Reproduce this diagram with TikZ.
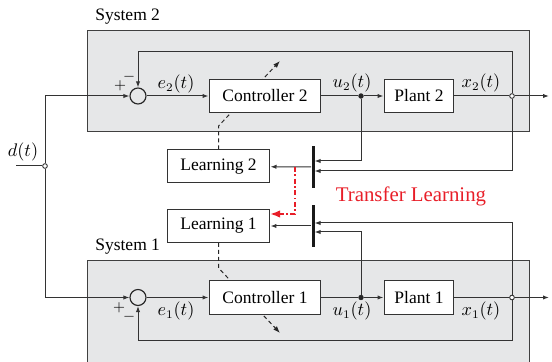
\documentclass[tikz,border=0pt]{standalone}
\usepackage{fontspec}
\setmainfont{Liberation Serif}
\usetikzlibrary{arrows.meta,calc}
\pgfdeclarelayer{back}
\pgfdeclarelayer{mid}
\pgfsetlayers{back,mid,main}
\definecolor{tlred}{RGB}{232,30,40}
\definecolor{sysgray}{RGB}{230,231,232}
\begin{document}
\begin{tikzpicture}[x=0.6pt,y=-0.6pt,
  font=\fontsize{10.5}{12}\selectfont,
  blk/.style={draw=black!80, line width=0.6pt, fill=white, inner sep=0pt, minimum height=20.2pt},
  sumc/.style={circle, draw=black!85, line width=0.7pt, minimum size=9.6pt, inner sep=0pt},
  odot/.style={circle, draw=black!85, fill=white, line width=0.5pt, minimum size=2.8pt, inner sep=0pt},
  fdot/.style={circle, draw=black!85, fill=black!85, minimum size=2.8pt, inner sep=0pt},
  swbar/.style={fill=black!90, minimum width=1.8pt, minimum height=25.2pt, inner sep=0pt},
  wire/.style={draw=black!80, line width=0.6pt},
  arr/.style={wire, -{Latex[length=3.6pt,width=2.6pt]}},
  dsh/.style={draw=black!85, line width=0.6pt, dash pattern=on 2.4pt off 1.8pt, -{Latex[length=4.2pt,width=3pt]}},
  lbl/.style={inner sep=0pt},
  pm/.style={inner sep=0pt, font=\fontsize{9}{10}\selectfont},
  sysbox/.style={fill=sysgray, draw=black!75, line width=0.6pt}]
\useasboundingbox (0,0) rectangle (552,362);
% system boxes
\begin{pgfonlayer}{back}
  \filldraw[sysbox] (87,31) rectangle (529,132);
  \fill[sysgray] (87,261) rectangle (529,366);
  \draw[sysbox] (87,366) -- (87,261) -- (529,261) -- (529,366);
\end{pgfonlayer}
\node[lbl, anchor=west] (sys2) at (95,17) {System 2};
\node[lbl, anchor=west] (sys1) at (95,247) {System 1};
% system 2
\node[sumc] (s2) at (138,96) {};
\node[blk, minimum width=67.2pt] (c2) at (265,96) {Controller 2};
\node[fdot] (u2) at (361,96) {};
\node[blk, minimum width=42pt] (p2) at (419,96) {Plant 2};
\node[odot] (x2) at (512,96) {};
\coordinate (o2) at (549,96);
\coordinate (fb2) at (138,52);
% system 1
\node[sumc] (s1) at (138,297.5) {};
\node[blk, minimum width=67.2pt] (c1) at (265,297.5) {Controller 1};
\node[fdot] (u1) at (361,297.5) {};
\node[blk, minimum width=42pt] (p1) at (419,297.5) {Plant 1};
\node[odot] (x1) at (512,297.5) {};
\coordinate (o1) at (549,297.5);
\coordinate (fb1) at (138,341);
% input
\coordinate (din) at (16,166);
\node[odot] (d) at (45,166) {};
\node[lbl] (dl) at (23,152) {$d(t)$};
% learning
\node[blk, minimum width=61.8pt, minimum height=19.8pt] (l2) at (218.5,166.5) {Learning 2};
\node[blk, minimum width=61.8pt, minimum height=19.8pt] (l1) at (218.5,226) {Learning 1};
\node[swbar] (sw2) at (313,167) {};
\node[swbar] (sw1) at (313,226) {};
\coordinate (a2u) at (314.6,161);
\coordinate (a2x) at (314.6,171);
\coordinate (a1x) at (314.6,223);
\coordinate (a1u) at (314.6,232);
% labels
\node[lbl] (e2l) at (176,84) {$e_2(t)$};
\node[lbl] (u2l) at (352,83) {$u_2(t)$};
\node[lbl] (x2l) at (481,83) {$x_2(t)$};
\node[lbl] (e1l) at (176,311) {$e_1(t)$};
\node[lbl] (u1l) at (352,311) {$u_1(t)$};
\node[lbl] (x1l) at (481,311) {$x_1(t)$};
\node[pm] (pl2) at (120,86) {$+$};
\node[pm] (mi2) at (129,77) {$-$};
\node[pm] (pl1) at (119,308) {$+$};
\node[pm] (mi1) at (129,317) {$-$};
\node[lbl, text=tlred, font=\fontsize{12.5}{14}\selectfont] (tl) at (411,196) {Transfer Learning};
% wires system 2
\draw[arr] (s2) -- (c2);
\draw[wire] (c2) -- (u2);
\draw[arr] (u2) -- (p2);
\draw[wire] (p2) -- (x2);
\draw[arr] (x2) -- (o2);
\draw[arr] (x2) |- (fb2) -- (s2);
% wires system 1
\draw[arr] (s1) -- (c1);
\draw[wire] (c1) -- (u1);
\draw[arr] (u1) -- (p1);
\draw[wire] (p1) -- (x1);
\draw[arr] (x1) -- (o1);
\draw[arr] (x1) |- (fb1) -- (s1);
% input
\draw[wire] (din) -- (d);
\draw[arr] (d) |- (s2);
\draw[arr] (d) |- (s1);
% learning wires
\draw[arr] (u2) |- (a2u);
\draw[arr] (x2) |- (a2x);
\draw[arr] (sw2) -- (l2);
\draw[arr] (x1) |- (a1x);
\draw[arr] (u1) |- (a1u);
\draw[arr] (sw1) -- (l1);
% adaptation arrows
\coordinate (dk2) at (218.5,126);
\coordinate (dt2) at (280,61);
\coordinate (dk1) at (218.5,268);
\coordinate (dt1) at (280,333);
\begin{pgfonlayer}{mid}
  \draw[dsh] (l2.north) -- (dk2) -- (dt2);
  \draw[dsh] (l1.south) -- (dk1) -- (dt1);
\end{pgfonlayer}
% transfer
\coordinate (r0) at (295,167);
\coordinate (r1) at (295,214);
\coordinate (r2) at (270,214);
\draw[tlred, line width=1.3pt, dash pattern=on 3pt off 1.5pt on 1pt off 1.5pt, -{Latex[length=6pt,width=4.5pt]}] (r0) -- (r1) -- (r2);
\end{tikzpicture}
\end{document}
